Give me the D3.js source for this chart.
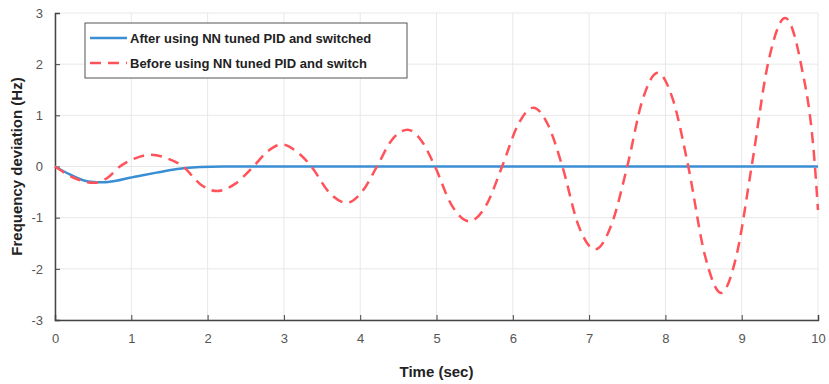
<!DOCTYPE html>
<html>
<head>
<meta charset="utf-8">
<script src="https://cdn.jsdelivr.net/npm/d3@7"></script>
<style>
    body { margin: 0; background: #fff; }
    svg { display: block; font-family: "Liberation Sans", Arial, sans-serif; }
</style>
</head>
<body>
<div id="chart"></div>
<script>
// x ticks and y ticks
var xTicks = [0, 1, 2, 3, 4, 5, 6, 7, 8, 9, 10];
var yTicks = [-3, -2, -1, 0, 1, 2, 3];

// after NN tuned PID (blue)
var afterT = [0, 0.2, 0.46, 0.63, 0.8, 0.98, 1.15, 1.33, 1.6, 1.9, 2.2, 3, 5, 7, 10];
var afterV = [0, -0.16, -0.3, -0.31, -0.28, -0.22, -0.17, -0.12, -0.05, -0.01, 0, 0, 0, 0, 0];

// before NN tuned PID (red dashed)
var beforeT = [0, 0.26, 0.5, 0.68, 0.85, 1.05, 1.25, 1.47, 1.68, 1.9, 2.12, 2.36, 2.6, 2.79, 2.97, 3.16, 3.36,
    3.59, 3.82, 4.02, 4.22, 4.41, 4.62, 4.8, 4.98, 5.2, 5.43, 5.65, 5.86, 6.07, 6.27, 6.46, 6.65,
    6.86, 7.08, 7.29, 7.5, 7.7, 7.9, 8.1, 8.3, 8.52, 8.73, 8.93, 9.13, 9.35, 9.57, 9.77, 9.96, 10];
var beforeV = [0, -0.23, -0.32, -0.23, 0, 0.16, 0.23, 0.16, 0, -0.34, -0.48, -0.34, 0, 0.3, 0.43, 0.3, 0,
    -0.5, -0.71, -0.5, 0, 0.51, 0.72, 0.51, 0, -0.76, -1.07, -0.76, 0, 0.82, 1.15, 0.82, 0,
    -1.15, -1.62, -1.15, 0, 1.3, 1.83, 1.3, 0, -1.75, -2.47, -1.75, 0, 2.05, 2.9, 2.05, 0, -0.85];

var seriesNames = ["After using NN tuned PID and switched", "Before using NN tuned PID and switch"];

var w = 829;
var h = 384;
var margin = { left: 55, right: 11, top: 13, bottom: 64 };

var svg = d3.select("#chart").append("svg")
    .attr("width", w)
    .attr("height", h);

var x = d3.scaleLinear().domain([0, 10]).range([margin.left, w - margin.right]);
var y = d3.scaleLinear().domain([-3, 3]).range([h - margin.bottom, margin.top]);

// grid
svg.append("g").selectAll("line.vg")
    .data(xTicks)
    .enter().append("line")
    .attr("x1", function(d) { return x(d); })
    .attr("x2", function(d) { return x(d); })
    .attr("y1", y(-3)).attr("y2", y(3))
    .attr("stroke", "#e8e8e8").attr("stroke-width", 1);

svg.append("g").selectAll("line.hg")
    .data(yTicks)
    .enter().append("line")
    .attr("x1", x(0)).attr("x2", x(10))
    .attr("y1", function(d) { return y(d); })
    .attr("y2", function(d) { return y(d); })
    .attr("stroke", "#e8e8e8").attr("stroke-width", 1);

// axes, ticks pointing inward
var xAxis = svg.append("g")
    .attr("transform", "translate(0," + y(-3) + ")")
    .call(d3.axisBottom(x).tickValues(xTicks).tickSize(-5).tickPadding(14).tickFormat(function(d) { return String(d); }));
var yAxis = svg.append("g")
    .attr("transform", "translate(" + x(0) + ",0)")
    .call(d3.axisLeft(y).tickValues(yTicks).tickSize(-5).tickPadding(12).tickFormat(function(d) { return String(d); }));

[xAxis, yAxis].forEach(function(ax) {
    ax.select(".domain").attr("stroke", "#444").attr("stroke-width", 1.5);
    ax.selectAll(".tick line").attr("stroke", "#444");
    ax.selectAll(".tick text")
        .attr("fill", "#555")
        .style("font-size", "13px")
        .style("font-family", "'Liberation Sans', Arial, sans-serif");
});

// lines
var lineAfter = d3.line()
    .x(function(d, i) { return x(afterT[i]); })
    .y(function(d) { return y(d); })
    .curve(d3.curveMonotoneX);

var lineBefore = d3.line()
    .x(function(d, i) { return x(beforeT[i]); })
    .y(function(d) { return y(d); })
    .curve(d3.curveMonotoneX);

svg.append("path")
    .attr("d", lineAfter(afterV))
    .attr("fill", "none")
    .attr("stroke", "#3a8ed3")
    .attr("stroke-width", 2.5);

svg.append("path")
    .attr("d", lineBefore(beforeV))
    .attr("fill", "none")
    .attr("stroke", "#ff5259")
    .attr("stroke-width", 2.5)
    .attr("stroke-dasharray", "11,7");

// legend
var legend = svg.append("g");
legend.append("rect")
    .attr("x", 85).attr("y", 23)
    .attr("width", 322).attr("height", 55)
    .attr("fill", "#fff")
    .attr("stroke", "#555").attr("stroke-width", 1);

var legendStyles = [
    { color: "#3a8ed3", dash: null },
    { color: "#ff5259", dash: "11,7" }
];

legend.selectAll("line.key")
    .data(seriesNames)
    .enter().append("line")
    .attr("x1", 90).attr("x2", 127)
    .attr("y1", function(d, i) { return 38 + i * 25; })
    .attr("y2", function(d, i) { return 38 + i * 25; })
    .attr("stroke", function(d, i) { return legendStyles[i].color; })
    .attr("stroke-width", 2.5)
    .attr("stroke-dasharray", function(d, i) { return legendStyles[i].dash; });

legend.selectAll("text.key")
    .data(seriesNames)
    .enter().append("text")
    .attr("x", 130)
    .attr("y", function(d, i) { return 43 + i * 25; })
    .attr("fill", "#222")
    .style("font-size", "13px")
    .style("font-weight", "bold")
    .text(function(d) { return d; });

// axis titles
svg.append("text")
    .attr("x", (x(0) + x(10)) / 2)
    .attr("y", 377)
    .attr("text-anchor", "middle")
    .attr("fill", "#222")
    .style("font-size", "15px")
    .style("font-weight", "bold")
    .text("Time (sec)");

svg.append("text")
    .attr("transform", "translate(22," + y(0) + ") rotate(-90)")
    .attr("text-anchor", "middle")
    .attr("fill", "#222")
    .style("font-size", "15px")
    .style("font-weight", "bold")
    .text("Frequency deviation (Hz)");
</script>
</body>
</html>
